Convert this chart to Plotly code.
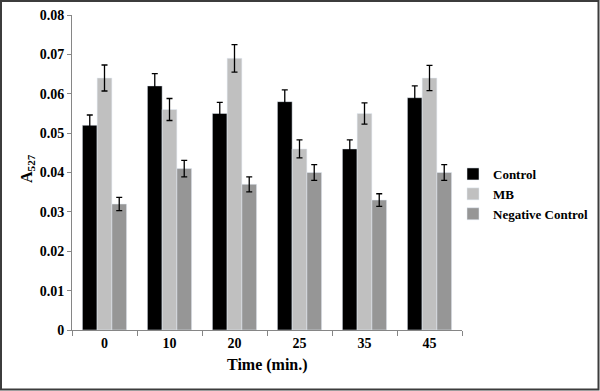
import plotly.graph_objects as go

categories = ["0", "10", "20", "25", "35", "45"]
control = [0.052, 0.062, 0.055, 0.058, 0.046, 0.059]
control_err = [0.0026, 0.0031, 0.0028, 0.0030, 0.0023, 0.0030]
mb = [0.064, 0.056, 0.069, 0.046, 0.055, 0.064]
mb_err = [0.0033, 0.0028, 0.0035, 0.0023, 0.0027, 0.0032]
neg = [0.032, 0.041, 0.037, 0.040, 0.033, 0.040]
neg_err = [0.0017, 0.0021, 0.0019, 0.0020, 0.0016, 0.0020]
y_ticks = [0, 0.01, 0.02, 0.03, 0.04, 0.05, 0.06, 0.07, 0.08]
y_ticktext = ["0", "0.01", "0.02", "0.03", "0.04", "0.05", "0.06", "0.07", "0.08"]

W, H = 600, 391
L, R, T, B = 72, 138, 15, 61
PW, PH = W - L - R, H - T - B

SERIF = "Liberation Serif"

def err(a):
    return dict(type="data", array=a, visible=True, color="#000000", thickness=1.3, width=3)

fig = go.Figure()
fig.add_trace(go.Bar(name="Control", x=categories, y=control, marker=dict(color="#000000"), error_y=err(control_err)))
fig.add_trace(go.Bar(name="MB", x=categories, y=mb, marker=dict(color="#c0c0c0"), error_y=err(mb_err)))
fig.add_trace(go.Bar(name="Negative Control", x=categories, y=neg, marker=dict(color="#969696"), error_y=err(neg_err)))

def px_x(p):
    return (p - L) / PW

def px_y(p):
    return (H - B - p) / PH

tickfont = dict(family=SERIF, size=14, color="#000000", weight="bold")

fig.update_layout(
    width=W, height=H,
    margin=dict(l=L, r=R, t=T, b=B, autoexpand=False),
    paper_bgcolor="white", plot_bgcolor="white",
    barmode="group", bargap=0.32, bargroupgap=0,
    font=dict(family=SERIF, size=13, color="#000000"),
    showlegend=True,
    legend=dict(x=px_x(453), y=px_y(159), xanchor="left", yanchor="top",
                font=dict(family=SERIF, size=13, color="#000000", weight="bold"),
                tracegroupgap=0, itemwidth=30, bgcolor="rgba(0,0,0,0)"),
    xaxis=dict(type="category", showline=True, linecolor="#868686", linewidth=1,
               ticks="outside", tickson="boundaries", ticklen=5, tickcolor="#868686",
               tickfont=tickfont, showgrid=False, zeroline=False),
    yaxis=dict(range=[0, 0.08], tickvals=y_ticks, ticktext=y_ticktext, showline=True,
               linecolor="#868686", linewidth=1, ticks="outside", ticklen=4, tickcolor="#868686",
               tickfont=tickfont, showgrid=False, zeroline=False),
)

fig.add_annotation(text="Time (min.)", xref="paper", yref="paper", x=0.5, y=px_y(365),
                   showarrow=False, xanchor="center", yanchor="middle",
                   font=dict(family=SERIF, size=16, color="#000000", weight="bold"))
fig.add_annotation(text="A<sub>527</sub>", xref="paper", yref="paper", x=px_x(27), y=px_y(169),
                   showarrow=False, xanchor="center", yanchor="middle", textangle=-90,
                   font=dict(family=SERIF, size=16, color="#000000", weight="bold"))

fig.add_shape(type="rect", xref="paper", yref="paper",
              x0=px_x(1), x1=px_x(598.5), y0=px_y(389.5), y1=px_y(1),
              line=dict(color="#3c3c3c", width=2), fillcolor="rgba(0,0,0,0)", layer="above")

fig.write_html("out.html", config={"displayModeBar": False},
               post_script="document.body.style.margin='0';document.body.style.overflow='hidden';")
